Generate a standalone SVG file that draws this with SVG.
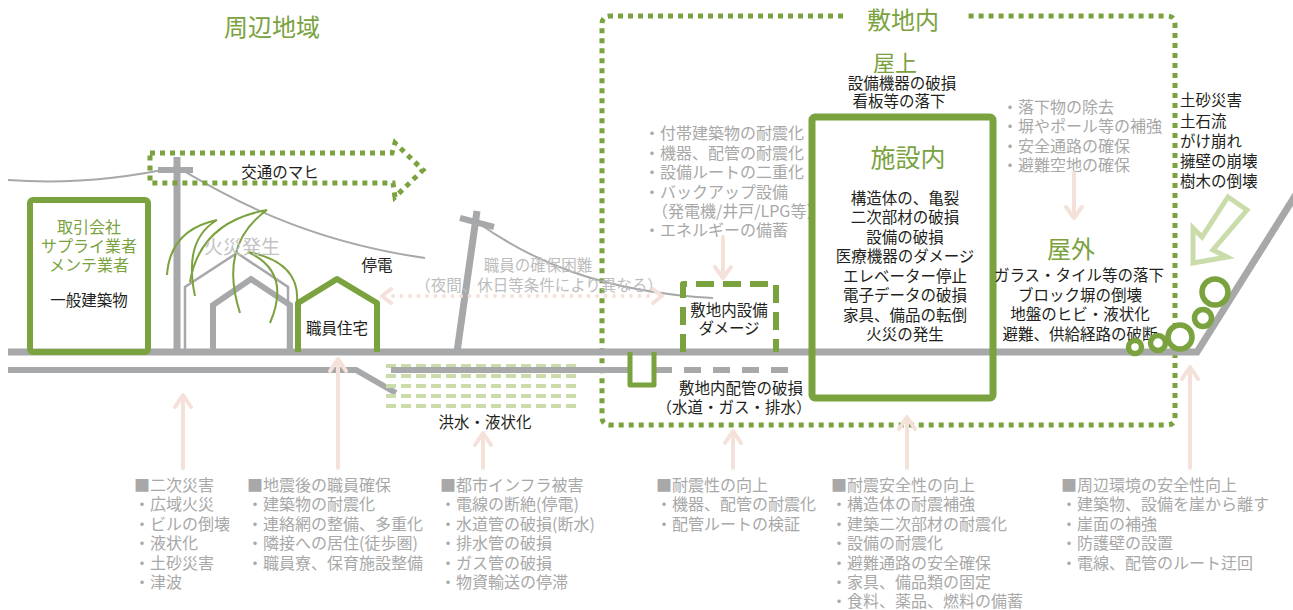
<svg xmlns="http://www.w3.org/2000/svg" width="1293" height="610" viewBox="0 0 1293 610">
<style>
text { font-family: 'Noto Sans CJK JP', 'Noto Sans', sans-serif; }
.tg { fill: #7aa23e; }
.tk { fill: #231f20; font-size: 15.5px; }
.ts { fill: #a8a8a8; font-size: 16px; }
.tl { fill: #bdbdbd; font-size: 15.5px; }
.mid { text-anchor: middle; }
.gline { fill: none; stroke: #a7a8aa; }
.wire { fill: none; stroke: #a7a8aa; stroke-width: 2; }
.gbox { fill: none; stroke: #7aa23e; stroke-linejoin: round; }
.dots { fill: none; stroke: #7aa23e; stroke-width: 5; stroke-dasharray: 5 5; }
.pink { fill: none; stroke: #f4e1d9; stroke-width: 4; stroke-linecap: round; stroke-linejoin: round; }
.pdots { fill: none; stroke: #f4e1d9; stroke-width: 4; stroke-linecap: round; stroke-dasharray: 0 8.5; }
.flame { fill: none; stroke: #7aa23e; stroke-width: 2; }
.flood { fill: none; stroke: #c9dca9; stroke-width: 4; stroke-dasharray: 10 5; }
</style>

<!-- area titles -->
<text class="tg mid" x="272" y="36" font-size="24">周辺地域</text>

<!-- site boundary (dotted, gap for the title) -->
<g id="site">
  <path class="dots" d="M843,16 H610 Q602,16 602,24 V417 Q602,425 610,425 H1167 Q1175,425 1175,417 V24 Q1175,16 1167,16 H968"/>
  <text class="tg mid" x="903" y="29" font-size="24">敷地内</text>
</g>

<!-- underground pipes and flood zone -->
<g id="underground">
  <path class="gline" stroke-width="6" d="M8,370 H356 L396,393"/>
  <path class="flood" d="M386,366 H580 M386,376 H580 M386,386 H580 M386,396 H580 M386,406 H580"/>
  <path class="gline" stroke-width="6" d="M391,370 H630"/>
  <path class="gline" stroke-width="6" stroke-dasharray="17 12" d="M655,370 H797"/>
  <text class="tk mid" x="485" y="428">洪水・液状化</text>
</g>

<!-- poles and wires -->
<g id="poles">
  <path class="gline" stroke-width="7" d="M177,157 V352"/>
  <path class="gline" stroke-width="6" d="M158,170 H193"/>
  <path class="wire" d="M8,180 Q90,186 177,167"/>
  <path class="wire" d="M177,167 C225,195 300,240 425,258"/>
  <path class="gline" stroke-width="7" d="M457,352 L477,211"/>
  <path class="gline" stroke-width="6" d="M460,218 L494,227"/>
  <path class="wire" d="M477,222 C530,260 600,292 713,298"/>
  <text class="tk mid" x="377" y="271">停電</text>
</g>

<!-- ground line -->
<path id="ground" class="gline" stroke-width="7" d="M8,352 H1197 L1300,188"/>

<!-- traffic paralysis arrow -->
<g id="traffic">
  <path class="dots" d="M150,153 H392 L395,143 L423,170 L395,197 L393,183 H150 Z"/>
  <text class="tk mid" x="280" y="178">交通のマヒ</text>
</g>

<!-- general building -->
<g id="building">
  <rect class="gbox" x="30" y="200" width="118" height="152" rx="3" stroke-width="6" fill="#fff"/>
  <text class="tg mid" x="89" y="233" font-size="16">取引会社</text>
  <text class="tg mid" x="89" y="252" font-size="16">サプライ業者</text>
  <text class="tg mid" x="89" y="271" font-size="16">メンテ業者</text>
  <text class="tk mid" x="89" y="306" font-size="16">一般建築物</text>
</g>

<!-- burning houses -->
<g id="fire">
  <path class="gline" stroke-width="2.5" d="M185,352 V287 L237,253 L288,287 V352"/>
  <path class="gline" stroke-width="6" d="M213,352 V305 L251,279 L290,305 V352"/>
  <path class="flame" d="M167,275 Q170,230 217,220 M195,296 Q183,240 217,220"/>
  <path class="flame" d="M190,282 Q200,222 267,210 M240,313 Q218,245 267,210"/>
  <path class="flame" d="M248,252 Q292,272 270,323 M248,252 Q300,262 297,302"/>
  <text class="mid" x="242" y="254" font-size="19" fill="#c4c4c4">火災発生</text>
</g>

<!-- staff housing -->
<g id="staff-house">
  <path class="gbox" stroke-width="6" d="M298,352 V303 L337,279 L377,303 V352"/>
  <text class="tk mid" x="337" y="334">職員住宅</text>
</g>

<!-- staff shortage note -->
<g id="staff-note">
  <text class="tl mid" x="538" y="271">職員の確保困難</text>
  <text class="tl mid" x="539" y="291">（夜間、休日等条件により異なる）</text>
</g>

<!-- on-site equipment damage -->
<g id="equipment">
  <path class="gbox" stroke-width="6" stroke-dasharray="18 9" d="M683,352 V284 H776 V352"/>
  <text class="tk mid" x="729" y="316">敷地内設備</text>
  <text class="tk mid" x="729" y="334">ダメージ</text>
  <text class="ts" x="644" y="139">・付帯建築物の耐震化</text>
  <text class="ts" x="644" y="159">・機器、配管の耐震化</text>
  <text class="ts" x="644" y="178">・設備ルートの二重化</text>
  <text class="ts" x="644" y="198">・バックアップ設備</text>
  <text class="ts" x="652" y="217">（発電機/井戸/LPG等）</text>
  <text class="ts" x="644" y="236">・エネルギーの備蓄</text>
</g>

<!-- on-site piping -->
<g id="piping">
  <path class="gbox" stroke-width="5" d="M630,352 V385 H654 V352"/>
  <text class="tk mid" x="741" y="394">敷地内配管の破損</text>
  <text class="tk mid" x="734" y="413">（水道・ガス・排水）</text>
</g>

<!-- roof -->
<g id="roof">
  <text class="tg mid" x="895" y="71" font-size="22">屋上</text>
  <text class="tk mid" x="902" y="89">設備機器の破損</text>
  <text class="tk mid" x="899" y="107">看板等の落下</text>
</g>

<!-- inside the facility -->
<g id="facility">
  <rect class="gbox" x="812" y="117" width="181" height="281" rx="3" stroke-width="7"/>
  <text class="tg mid" x="908" y="167" font-size="25">施設内</text>
  <text class="tk mid" x="905" y="204">構造体の、亀裂</text>
  <text class="tk mid" x="905" y="223">二次部材の破損</text>
  <text class="tk mid" x="905" y="243">設備の破損</text>
  <text class="tk mid" x="905" y="262">医療機器のダメージ</text>
  <text class="tk mid" x="905" y="282">エレベーター停止</text>
  <text class="tk mid" x="905" y="301">電子データの破損</text>
  <text class="tk mid" x="905" y="321">家具、備品の転倒</text>
  <text class="tk mid" x="905" y="340">火災の発生</text>
</g>

<!-- outdoors -->
<g id="outdoor">
  <text class="ts" x="1002" y="113">・落下物の除去</text>
  <text class="ts" x="1002" y="132">・塀やポール等の補強</text>
  <text class="ts" x="1002" y="152">・安全通路の確保</text>
  <text class="ts" x="1002" y="171">・避難空地の確保</text>
  <text class="tg mid" x="1071" y="258" font-size="24">屋外</text>
  <text class="tk mid" x="1079" y="281">ガラス・タイル等の落下</text>
  <text class="tk mid" x="1080" y="301">ブロック塀の倒壊</text>
  <text class="tk mid" x="1080" y="320">地盤のヒビ・液状化</text>
  <text class="tk mid" x="1080" y="340">避難、供給経路の破断</text>
</g>

<!-- slope disaster -->
<g id="slope">
  <text class="tk" x="1180" y="106">土砂災害</text>
  <text class="tk" x="1180" y="127">土石流</text>
  <text class="tk" x="1180" y="147">がけ崩れ</text>
  <text class="tk" x="1180" y="167">擁壁の崩壊</text>
  <text class="tk" x="1180" y="187">樹木の倒壊</text>
  <path fill="#fff" stroke="#c9dca9" stroke-width="5" stroke-linejoin="miter" d="M1228,197 L1247,210 L1213,250 L1227,257 L1193,263 L1193,228 L1202,237 Z"/>
  <g fill="#fff" stroke="#7aa23e" stroke-width="5.5">
    <circle cx="1135" cy="347" r="6.5"/>
    <circle cx="1158" cy="343" r="7.5"/>
    <circle cx="1180" cy="337" r="12"/>
    <circle cx="1203" cy="318" r="8.5"/>
    <circle cx="1215" cy="292" r="13"/>
  </g>
</g>

<!-- connectors -->
<g id="connectors">
  <path class="pdots" d="M393,296 H652"/>
  <path class="pink" d="M391,289 L382,296 L391,303 M653,289 L662,296 L653,303"/>
  <path class="pink" d="M723,237 V277 M715,267 L723,278 L731,267"/>
  <path class="pink" d="M1074,173 V217 M1066,207 L1074,218 L1082,207"/>
  <path class="pink" d="M183,468 V396 M175,407 L183,395 L191,407"/>
  <path class="pink" d="M338,468 V360 M330,371 L338,359 L346,371"/>
  <path class="pink" d="M483,468 V434 M475,445 L483,433 L491,445"/>
  <path class="pink" d="M733,468 V432 M725,443 L733,431 L741,443"/>
  <path class="pink" d="M907,468 V418 M899,429 L907,417 L915,429"/>
  <path class="pink" d="M1190,468 V368 M1182,379 L1190,367 L1198,379"/>
</g>

<!-- countermeasure lists -->
<g id="list-secondary">
  <text class="ts" x="134" y="491">■二次災害</text>
  <text class="ts" x="134" y="510">・広域火災</text>
  <text class="ts" x="134" y="530">・ビルの倒壊</text>
  <text class="ts" x="134" y="549">・液状化</text>
  <text class="ts" x="134" y="569">・土砂災害</text>
  <text class="ts" x="134" y="588">・津波</text>
</g>
<g id="list-staff">
  <text class="ts" x="247" y="491">■地震後の職員確保</text>
  <text class="ts" x="247" y="510">・建築物の耐震化</text>
  <text class="ts" x="247" y="530">・連絡網の整備、多重化</text>
  <text class="ts" x="247" y="549">・隣接への居住(徒歩圏)</text>
  <text class="ts" x="247" y="569">・職員寮、保育施設整備</text>
</g>
<g id="list-infra">
  <text class="ts" x="440" y="491">■都市インフラ被害</text>
  <text class="ts" x="440" y="510">・電線の断絶(停電)</text>
  <text class="ts" x="440" y="530">・水道管の破損(断水)</text>
  <text class="ts" x="440" y="549">・排水管の破損</text>
  <text class="ts" x="440" y="569">・ガス管の破損</text>
  <text class="ts" x="440" y="588">・物資輸送の停滞</text>
</g>
<g id="list-seismic">
  <text class="ts" x="656" y="491">■耐震性の向上</text>
  <text class="ts" x="656" y="510">・機器、配管の耐震化</text>
  <text class="ts" x="656" y="530">・配管ルートの検証</text>
</g>
<g id="list-safety">
  <text class="ts" x="831" y="491">■耐震安全性の向上</text>
  <text class="ts" x="831" y="510">・構造体の耐震補強</text>
  <text class="ts" x="831" y="530">・建築二次部材の耐震化</text>
  <text class="ts" x="831" y="549">・設備の耐震化</text>
  <text class="ts" x="831" y="569">・避難通路の安全確保</text>
  <text class="ts" x="831" y="588">・家具、備品類の固定</text>
  <text class="ts" x="831" y="607">・食料、薬品、燃料の備蓄</text>
</g>
<g id="list-environment">
  <text class="ts" x="1061" y="491">■周辺環境の安全性向上</text>
  <text class="ts" x="1061" y="510">・建築物、設備を崖から離す</text>
  <text class="ts" x="1061" y="530">・崖面の補強</text>
  <text class="ts" x="1061" y="549">・防護壁の設置</text>
  <text class="ts" x="1061" y="569">・電線、配管のルート迂回</text>
</g>
</svg>
